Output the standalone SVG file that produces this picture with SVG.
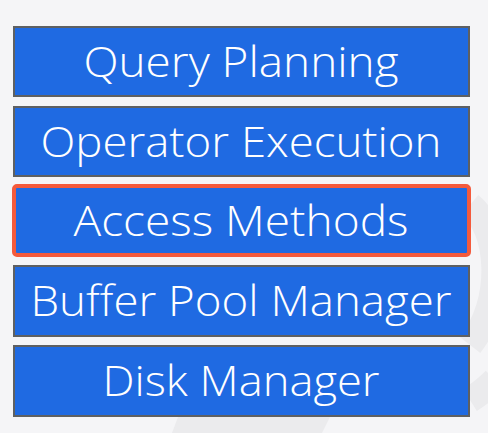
<svg xmlns="http://www.w3.org/2000/svg" width="488" height="433" viewBox="0 0 488 433">
  <style>
    .box { fill: #1f6ae2; stroke: #5e6062; stroke-width: 2; }
    .focus { fill: #1f6ae2; stroke: #f45a3c; stroke-width: 4; }
    .label { fill: #ffffff; font-family: "Open Sans", "Liberation Sans", sans-serif; font-size: 42px; font-weight: 300; text-anchor: middle; }
  </style>
  <!-- page background with faint watermark -->
  <rect x="0" y="0" width="488" height="433" fill="#f5f5f7"/>
  <g id="watermark" fill="none" stroke="#ebebed" stroke-width="26">
    <path d="M 470 205 C 500 230 505 300 470 345"/>
    <path d="M 470 400 C 478 395 485 390 495 380"/>
  </g>
  <path d="M 172 433 L 178 417 L 330 417 L 322 433 Z" fill="#ebebed"/>

  <g id="query-planning">
    <rect class="box" x="14" y="27" width="455" height="69"/>
    <text class="label" x="241" y="77" textLength="315" lengthAdjust="spacingAndGlyphs">Query Planning</text>
  </g>
  <g id="operator-execution">
    <rect class="box" x="14" y="107" width="455" height="69"/>
    <text class="label" x="241" y="157" textLength="401" lengthAdjust="spacingAndGlyphs">Operator Execution</text>
  </g>
  <g id="access-methods">
    <rect class="focus" x="14" y="186" width="455" height="69" rx="3"/>
    <text class="label" x="241" y="236" textLength="335" lengthAdjust="spacingAndGlyphs">Access Methods</text>
  </g>
  <g id="buffer-pool-manager">
    <rect class="box" x="14" y="266" width="455" height="70"/>
    <text class="label" x="241" y="316" textLength="421" lengthAdjust="spacingAndGlyphs">Buffer Pool Manager</text>
  </g>
  <g id="disk-manager">
    <rect class="box" x="14" y="346" width="455" height="70"/>
    <text class="label" x="241" y="396" textLength="277" lengthAdjust="spacingAndGlyphs">Disk Manager</text>
  </g>
  <g id="connectors"/>
</svg>
